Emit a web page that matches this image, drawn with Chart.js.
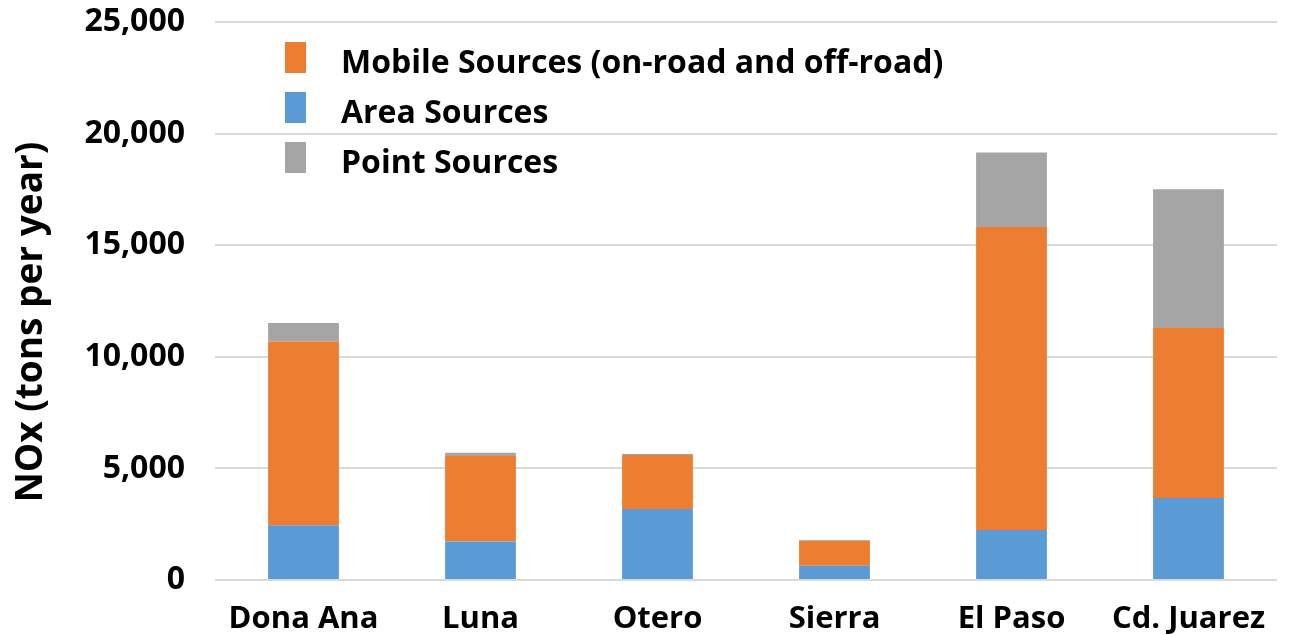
<!DOCTYPE html>
<html>
<head>
<meta charset="utf-8">
<script src="https://cdn.jsdelivr.net/npm/chart.js@4"></script>
<style>
  html, body { margin: 0; padding: 0; background: #fff; }
  #wrap { position: relative; width: 1289px; height: 635px; }
  #legend { position: absolute; left: 285px; top: 36px; font-family: "Open Sans", sans-serif; font-weight: 700; font-size: 32px; color: #000; }
  .item { display: flex; align-items: center; height: 49.7px; }
  .sw { width: 21px; height: 31px; margin-right: 35px; position: relative; top: -3px; }
</style>
</head>
<body>
<div id="wrap">
  <canvas id="c" width="1289" height="635"></canvas>
  <div id="legend"></div>
</div>
<script>
const categories = ["Dona Ana", "Luna", "Otero", "Sierra", "El Paso", "Cd. Juarez"];
const areaSources = [2450, 1730, 3180, 640, 2240, 3670];
const mobileSources = [8235, 3820, 2420, 1120, 13580, 7620];
const pointSources = [830, 150, 40, 30, 3330, 6220];
const yTicks = [0, 5000, 10000, 15000, 20000, 25000];
const yTitle = "NOx (tons per year)";

const colors = { mobile: "#ED7D31", area: "#5B9BD5", point: "#A5A5A5" };
const FONT = "'Open Sans', sans-serif";

const datasets = [
  { label: "Area Sources", data: areaSources, backgroundColor: colors.area },
  { label: "Mobile Sources (on-road and off-road)", data: mobileSources, backgroundColor: colors.mobile },
  { label: "Point Sources", data: pointSources, backgroundColor: colors.point }
];
datasets.forEach(d => { d.barPercentage = 0.4; d.categoryPercentage = 1.0; d.borderWidth = 0; });

const yTitlePlugin = {
  id: "yTitle",
  afterDraw(chart) {
    const ctx = chart.ctx;
    ctx.save();
    ctx.translate(31, 322);
    ctx.rotate(-Math.PI / 2);
    ctx.font = "bold 37px " + FONT;
    ctx.fillStyle = "#000";
    ctx.textAlign = "center";
    ctx.textBaseline = "middle";
    ctx.fillText(yTitle, 0, 0);
    ctx.restore();
  }
};

new Chart(document.getElementById("c"), {
  type: "bar",
  data: { labels: categories, datasets },
  plugins: [yTitlePlugin],
  options: {
    responsive: false,
    animation: false,
    devicePixelRatio: 1,
    layout: { padding: { left: 0, right: 12, top: 22, bottom: 0 } },
    plugins: { legend: { display: false }, tooltip: { enabled: false } },
    scales: {
      x: {
        stacked: true,
        grid: { display: false },
        border: { display: false },
        ticks: { color: "#000", font: { family: FONT, weight: "bold", size: 31 }, padding: 13 },
        afterFit: s => { s.height = 55; s.paddingLeft = 0; s.paddingRight = 0; }
      },
      y: {
        stacked: true,
        min: 0, max: 25000,
        afterBuildTicks: s => { s.ticks = yTicks.map(v => ({ value: v })); },
        grid: { color: "#D9D9D9", lineWidth: 2, drawTicks: false },
        border: { display: false },
        ticks: {
          color: "#000", padding: 30,
          font: { family: FONT, weight: "bold", size: 32 },
          callback: v => v.toLocaleString("en-US")
        },
        title: { display: false },
        afterFit: s => { s.width = 215; s.paddingTop = 0; s.paddingBottom = 0; }
      }
    }
  }
});

const legendOrder = [
  ["Mobile Sources (on-road and off-road)", colors.mobile],
  ["Area Sources", colors.area],
  ["Point Sources", colors.point]
];
const lg = document.getElementById("legend");
legendOrder.forEach(([t, c]) => {
  const it = document.createElement("div"); it.className = "item";
  const sw = document.createElement("div"); sw.className = "sw"; sw.style.background = c;
  const tx = document.createElement("span"); tx.textContent = t;
  it.appendChild(sw); it.appendChild(tx); lg.appendChild(it);
});
</script>
</body>
</html>
